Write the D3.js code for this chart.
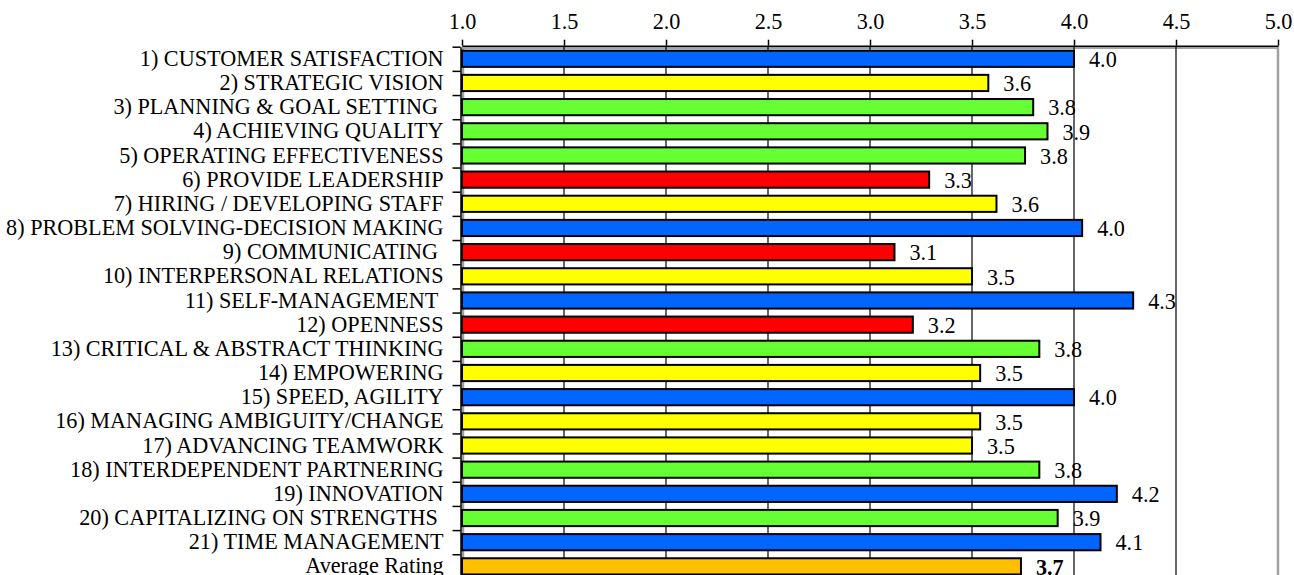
<!DOCTYPE html>
<html>
<head>
<meta charset="utf-8">
<script src="https://cdn.jsdelivr.net/npm/d3@7"></script>
<style>
  body { margin: 0; background: #fff; }
  svg text { font-family: "Times New Roman", "Liberation Serif", serif; white-space: pre; }
</style>
</head>
<body>
<div id="chart"></div>
<script>
// --------------------------------------
//  Data
// --------------------------------------

const categories = [
  "1) CUSTOMER SATISFACTION",
  "2) STRATEGIC VISION",
  "3) PLANNING & GOAL SETTING ",
  "4) ACHIEVING QUALITY",
  "5) OPERATING EFFECTIVENESS",
  "6) PROVIDE LEADERSHIP",
  "7) HIRING / DEVELOPING STAFF",
  "8) PROBLEM SOLVING-DECISION MAKING",
  "9) COMMUNICATING ",
  "10) INTERPERSONAL RELATIONS",
  "11) SELF-MANAGEMENT ",
  "12) OPENNESS",
  "13) CRITICAL & ABSTRACT THINKING",
  "14) EMPOWERING",
  "15) SPEED, AGILITY",
  "16) MANAGING AMBIGUITY/CHANGE",
  "17) ADVANCING TEAMWORK",
  "18) INTERDEPENDENT PARTNERING",
  "19) INNOVATION",
  "20) CAPITALIZING ON STRENGTHS ",
  "21) TIME MANAGEMENT",
  "Average Rating"
];

const ratings = [
  4.00, 3.58, 3.80, 3.87, 3.76, 3.29, 3.62, 4.04, 3.12, 3.50, 4.29,
  3.21, 3.83, 3.54, 4.00, 3.54, 3.50, 3.83, 4.21, 3.92, 4.13, 3.74
];

const xTicks = [1.0, 1.5, 2.0, 2.5, 3.0, 3.5, 4.0, 4.5, 5.0];

// --------------------------------------
//  Margin and canvas
// --------------------------------------

const width = 1294;
const height = 575;
const plotLeft = 462;
const plotRight = 1278;
const plotTop = 46.7;
const rowStep = 24.17;
const fontSize = "22.2px";
const fontFam = "'Times New Roman', 'Liberation Serif', serif";

const svg = d3.select("#chart")
  .append("svg")
    .attr("width", width)
    .attr("height", height);

// --------------------------------------
//  Scales
// --------------------------------------

const x = d3.scaleLinear()
  .domain([1, 5])
  .range([plotLeft, plotRight]);

const y = d3.scaleBand()
  .domain(categories)
  .range([plotTop, plotTop + rowStep * categories.length])
  .paddingInner(0.33)
  .paddingOuter(0.165);

// rating bands -> colour, the average gets its own
const color = d3.scaleThreshold()
  .domain([3.4, 3.7, 3.95])
  .range(["#ff0000", "#ffff00", "#66ff33", "#0066ff"]);
const avgColor = "#ffc000";

const rows = categories.map((c, i) => ({
  name: c,
  value: ratings[i],
  avg: i === categories.length - 1
}));

// --------------------------------------
//  Frame and gridlines
// --------------------------------------

svg.append("rect")
  .attr("x", x(1) + 1)
  .attr("y", plotTop + 1)
  .attr("width", x(5) - x(1) - 1)
  .attr("height", height)
  .attr("fill", "none")
  .attr("stroke", "#a0a0a0")
  .attr("stroke-width", 2.5);

svg.append("g")
  .selectAll("line")
  .data(xTicks.filter(t => t > 1 && t < 5))
  .join("line")
    .attr("x1", d => x(d))
    .attr("x2", d => x(d))
    .attr("y1", plotTop)
    .attr("y2", height)
    .attr("stroke", "#000")
    .attr("stroke-width", 1.2);

// --------------------------------------
//  Bars
// --------------------------------------

svg.append("g")
  .selectAll("rect")
  .data(rows)
  .join("rect")
    .attr("x", x(1))
    .attr("y", d => y(d.name))
    .attr("width", d => x(d.value) - x(1))
    .attr("height", y.bandwidth())
    .attr("fill", d => d.avg ? avgColor : color(d.value))
    .attr("stroke", "#000")
    .attr("stroke-width", 2);

svg.append("g")
  .selectAll("text")
  .data(rows)
  .join("text")
    .attr("x", d => x(d.value) + 15)
    .attr("y", d => y(d.name) + y.bandwidth() / 2)
    .attr("dy", "0.37em")
    .attr("font-family", fontFam)
    .attr("font-size", fontSize)
    .attr("font-weight", d => d.avg ? "bold" : "normal")
    .attr("fill", "#000")
    .text(d => d3.format(".1f")(d.value));

// --------------------------------------
//  Axes
// --------------------------------------

const xAxis = svg.append("g")
  .attr("transform", `translate(0, ${plotTop - 1})`)
  .call(d3.axisTop(x)
    .tickValues(xTicks)
    .tickFormat(d3.format(".1f"))
    .tickSize(6)
    .tickPadding(11)
    .tickSizeOuter(0))
  .attr("font-family", fontFam);

xAxis.select(".domain").attr("stroke-width", 1.5);
xAxis.selectAll(".tick line").attr("stroke-width", 1.5);
xAxis.selectAll("text")
  .attr("font-size", fontSize)
  .attr("fill", "#000");

const yAxis = svg.append("g")
  .attr("transform", `translate(${plotLeft - 1.5}, 0)`)
  .call(d3.axisLeft(y)
    .tickSize(0)
    .tickPadding(17)
    .tickSizeOuter(0))
  .attr("font-family", fontFam);

yAxis.select(".domain").attr("stroke-width", 1.5);
yAxis.selectAll("text")
  .attr("font-size", fontSize)
  .attr("dy", "0.32em")
  .attr("fill", "#000");

// boundary ticks between rows
const rowEdges = d3.scaleLinear()
  .domain([0, categories.length])
  .range([plotTop, plotTop + rowStep * categories.length]);

svg.append("g")
  .attr("transform", `translate(${plotLeft - 1.5}, 0)`)
  .call(d3.axisLeft(rowEdges)
    .tickValues(d3.range(categories.length))
    .tickFormat("")
    .tickSize(8)
    .tickSizeOuter(0))
  .call(g => g.select(".domain").remove())
  .call(g => g.selectAll(".tick line").attr("stroke-width", 1.5));
</script>
</body>
</html>
